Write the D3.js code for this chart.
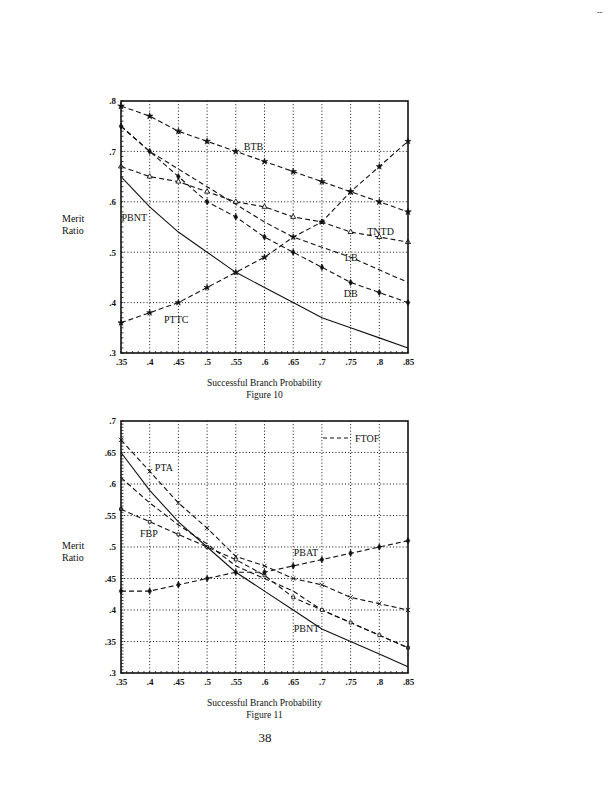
<!DOCTYPE html>
<html><head><meta charset="utf-8">
<script src="https://cdn.jsdelivr.net/npm/d3@7"></script>
<style>
html,body{margin:0;padding:0;background:#fff;}
svg{display:block;}
text{font-family:"Liberation Serif","DejaVu Serif",serif;fill:#111;}
</style></head>
<body>
<svg id="page" width="612" height="791"></svg>
<script>
// ---------- DATA ----------
const probabilities = [0.35,0.40,0.45,0.50,0.55,0.60,0.65,0.70,0.75,0.80,0.85];
const xTickLabels = [".35",".4",".45",".5",".55",".6",".65",".7",".75",".8",".85"];

// Figure 10
const fig10YTicks = [0.3,0.4,0.5,0.6,0.7,0.8];
const fig10YLabels = [".3",".4",".5",".6",".7",".8"];
const fig10BTB  = [0.79,0.77,0.74,0.72,0.70,0.68,0.66,0.64,0.62,0.60,0.58];
const fig10TNTD = [0.67,0.65,0.64,0.62,0.60,0.59,0.57,0.56,0.54,0.53,0.52];
const fig10LB   = [0.75,0.70,0.665,0.63,0.595,0.56,0.53,0.51,0.49,0.465,0.44];
const fig10DB   = [0.75,0.70,0.65,0.60,0.57,0.53,0.50,0.47,0.44,0.42,0.40];
const fig10PTTC = [0.36,0.38,0.40,0.43,0.46,0.49,0.53,0.56,0.62,0.67,0.72];
const fig10PBNT = [0.65,0.59,0.54,0.50,0.46,0.43,0.40,0.37,0.35,0.33,0.31];

// Figure 11
const fig11YTicks = [0.3,0.35,0.4,0.45,0.5,0.55,0.6,0.65,0.7];
const fig11YLabels = [".3",".35",".4",".45",".5",".55",".6",".65",".7"];
const fig11PTA  = [0.67,0.62,0.57,0.53,0.485,0.47,0.45,0.44,0.42,0.41,0.40];
const fig11FTOF = [0.61,0.57,0.535,0.505,0.47,0.45,0.43,0.40,0.38,0.36,0.34];
const fig11FBP  = [0.56,0.54,0.52,0.50,0.48,0.455,0.42,0.40,0.38,0.36,0.34];
const fig11PBAT = [0.43,0.43,0.44,0.45,0.46,0.46,0.47,0.48,0.49,0.50,0.51];
const fig11PBNT = [0.65,0.59,0.54,0.50,0.46,0.43,0.40,0.37,0.35,0.33,0.31];

// Series label anchors (data coords: probability, ratio)
const fig10Labels = [
  {text:"BTB",  p:0.564, v:0.703},
  {text:"TNTD", p:0.779, v:0.534},
  {text:"LB",   p:0.740, v:0.483},
  {text:"DB",   p:0.738, v:0.411},
  {text:"PTTC", p:0.425, v:0.360},
  {text:"PBNT", p:0.351, v:0.562}
];
const fig11Labels = [
  {text:"PTA",  p:0.409, v:0.621},
  {text:"FBP",  p:0.383, v:0.516},
  {text:"PBAT", p:0.651, v:0.486},
  {text:"PBNT", p:0.651, v:0.365}
];

// ---------- DRAW ----------
const svg = d3.select("#page");

function drawFigure(cfg){
  const g = svg.append("g");
  const x = d3.scaleLinear().domain([0.35,0.85]).range([cfg.left, cfg.right]);
  const y = d3.scaleLinear().domain(cfg.yDomain).range([cfg.bottom, cfg.top]);

  // grid (dotted)
  g.selectAll(".vg").data(probabilities.slice(1,-1)).join("line")
    .attr("x1",d=>x(d)).attr("x2",d=>x(d)).attr("y1",cfg.top).attr("y2",cfg.bottom)
    .attr("stroke","#111").attr("stroke-width",1).attr("stroke-dasharray","1,2.2");
  g.selectAll(".hg").data(cfg.yTicks.slice(1,-1)).join("line")
    .attr("x1",cfg.left).attr("x2",cfg.right).attr("y1",d=>y(d)).attr("y2",d=>y(d))
    .attr("stroke","#111").attr("stroke-width",1).attr("stroke-dasharray","1,2.2");

  // minor ticks on left and bottom
  const minorY = d3.range(cfg.yDomain[0], cfg.yDomain[1]+1e-9, cfg.minorStep);
  g.selectAll(".my").data(minorY).join("line")
    .attr("x1",cfg.left).attr("x2",cfg.left+2.5).attr("y1",d=>y(d)).attr("y2",d=>y(d))
    .attr("stroke","#111").attr("stroke-width",0.8);
  const minorX = d3.range(0.35,0.85+1e-9,0.01);
  g.selectAll(".mx").data(minorX).join("line")
    .attr("x1",d=>x(d)).attr("x2",d=>x(d)).attr("y1",cfg.bottom).attr("y2",cfg.bottom-2)
    .attr("stroke","#111").attr("stroke-width",0.8);

  // axes labels via d3 axes
  const xAxis = d3.axisBottom(x).tickValues(probabilities)
    .tickFormat((d,i)=>xTickLabels[i]).tickSize(0).tickPadding(6);
  const xa = g.append("g").attr("transform",`translate(0,${cfg.bottom})`).call(xAxis);
  xa.select(".domain").remove();
  xa.selectAll("text").attr("font-size",9).attr("font-weight","bold")
    .attr("font-family","Liberation Serif, serif").attr("fill","#111");

  const yAxis = d3.axisLeft(y).tickValues(cfg.yTicks)
    .tickFormat((d,i)=>cfg.yLabels[i]).tickSize(0).tickPadding(5);
  const ya = g.append("g").attr("transform",`translate(${cfg.left},0)`).call(yAxis);
  ya.select(".domain").remove();
  ya.selectAll("text").attr("font-size",9).attr("font-weight","bold")
    .attr("font-family","Liberation Serif, serif").attr("fill","#111");

  // series
  const line = d3.line().x((d,i)=>x(probabilities[i])).y(d=>y(d));
  cfg.series.forEach(s=>{
    g.append("path").datum(s.values).attr("d",line)
      .attr("fill","none").attr("stroke","#111").attr("stroke-width",1.1)
      .attr("stroke-dasharray", s.dash || null);
    if(s.symbol){
      const sym = d3.symbol().type(s.symbol).size(s.size||14);
      g.selectAll(null).data(s.values).join("path")
        .attr("d",sym)
        .attr("transform",(d,i)=>`translate(${x(probabilities[i])},${y(d)})`)
        .attr("fill", s.hollow ? "#fff" : "#111")
        .attr("stroke","#111").attr("stroke-width", s.hollow?0.9:0.5);
    }
  });

  // frame
  g.append("rect").attr("x",cfg.left).attr("y",cfg.top)
    .attr("width",cfg.right-cfg.left).attr("height",cfg.bottom-cfg.top)
    .attr("fill","none").attr("stroke","#111").attr("stroke-width",1.6);

  // series labels
  g.selectAll(".lbl").data(cfg.labels).join("text")
    .attr("x",d=>x(d.p)).attr("y",d=>y(d.v))
    .attr("font-size",10).text(d=>d.text);

  // Merit Ratio
  g.append("text").attr("x",62).attr("y",cfg.meritY).attr("font-size",10).text("Merit");
  g.append("text").attr("x",62).attr("y",cfg.meritY+12).attr("font-size",10).text("Ratio");

  // x title and figure caption
  const cx = (cfg.left+cfg.right)/2;
  g.append("text").attr("x",cx).attr("y",cfg.bottom+33).attr("text-anchor","middle")
    .attr("font-size",9.5).text("Successful Branch Probability");
  g.append("text").attr("x",cx).attr("y",cfg.bottom+45).attr("text-anchor","middle")
    .attr("font-size",9.5).text(cfg.caption);

  return {g,x,y};
}

drawFigure({
  left:121, right:408, top:101, bottom:353,
  yDomain:[0.3,0.8], yTicks:fig10YTicks, yLabels:fig10YLabels, minorStep:0.01,
  series:[
    {values:fig10BTB,  dash:"5,3", symbol:d3.symbolStar, size:14},
    {values:fig10TNTD, dash:"5,3", symbol:d3.symbolTriangle, size:11, hollow:true},
    {values:fig10LB,   dash:"5,3"},
    {values:fig10DB,   dash:"5,3", symbol:d3.symbolDiamond, size:12},
    {values:fig10PTTC, dash:"5,3", symbol:d3.symbolStar, size:12},
    {values:fig10PBNT}
  ],
  labels:fig10Labels, meritY:222, caption:"Figure 10"
});

const f11 = drawFigure({
  left:121, right:408, top:421, bottom:673,
  yDomain:[0.3,0.7], yTicks:fig11YTicks, yLabels:fig11YLabels, minorStep:0.005,
  series:[
    {values:fig11PTA,  dash:"5,3", symbol:d3.symbolTimes, size:14, hollow:true},
    {values:fig11FTOF, dash:"5,3"},
    {values:fig11FBP,  dash:"5,3", symbol:d3.symbolSquare, size:8, hollow:true},
    {values:fig11PBAT, dash:"5,3", symbol:d3.symbolDiamond, size:12},
    {values:fig11PBNT}
  ],
  labels:fig11Labels, meritY:549, caption:"Figure 11"
});

// FTOF legend
f11.g.append("line").attr("x1",323).attr("x2",349).attr("y1",438).attr("y2",438)
  .attr("stroke","#111").attr("stroke-width",1.1).attr("stroke-dasharray","4,3");
f11.g.append("text").attr("x",355).attr("y",442).attr("font-size",10).text("FTOF");

// page number and stray mark
svg.append("text").attr("x",265).attr("y",742).attr("text-anchor","middle")
  .attr("font-size",13).text("38");
svg.append("text").attr("x",597).attr("y",15).attr("font-size",8).attr("fill","#555").text("--");
</script>
</body></html>
